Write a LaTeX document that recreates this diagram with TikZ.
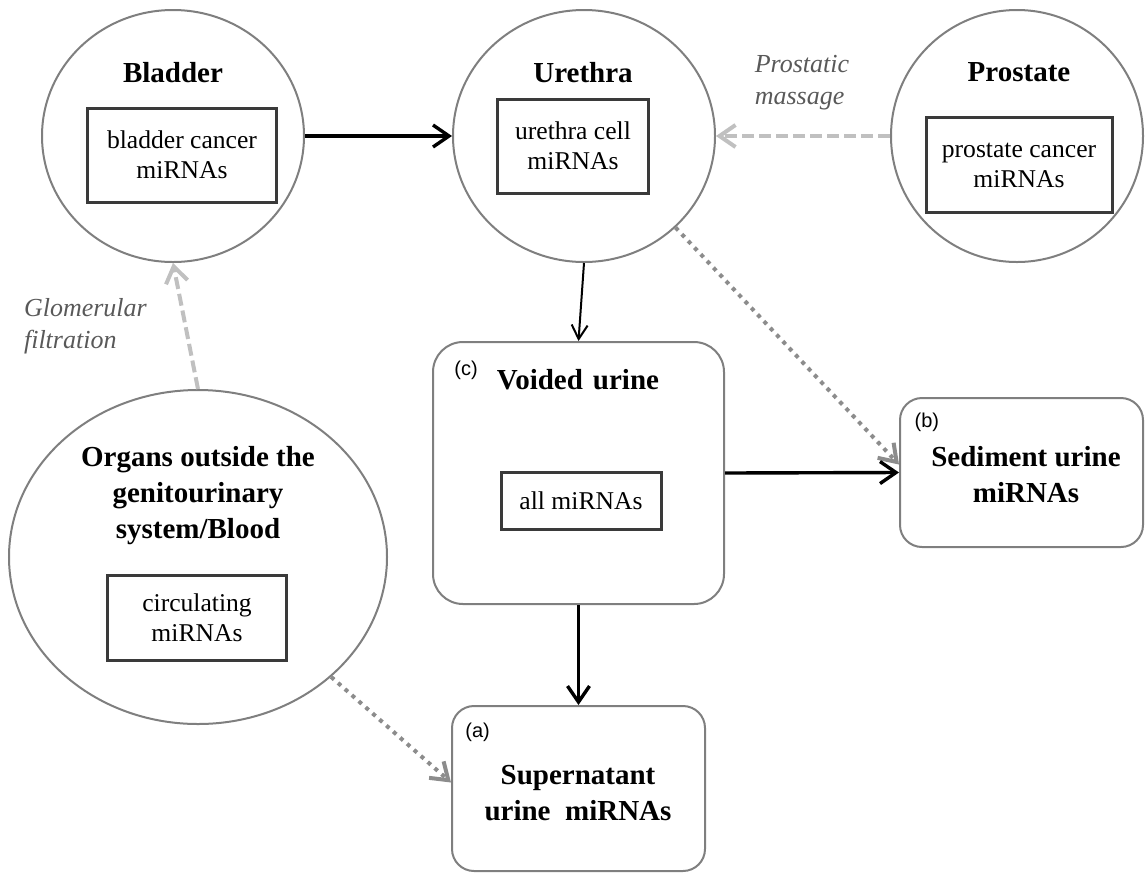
\documentclass[tikz,border=0pt]{standalone}
\usepackage{fontspec}
\setmainfont{Liberation Serif}
\setsansfont{Liberation Sans}
\usepackage{tikz}
\usetikzlibrary{arrows.meta, positioning, shapes.geometric}

\definecolor{rimgray}{HTML}{7F7F7F}
\definecolor{boxgray}{HTML}{3A3A3A}
\definecolor{fadegray}{HTML}{C0C0C0}
\definecolor{dotgray}{HTML}{8C8C8C}
\definecolor{notegray}{HTML}{595959}

\begin{document}
\begin{tikzpicture}[x=0.5pt, y=-0.5pt, >={Straight Barb[length=8pt,width=11pt]},
        organ/.style={ellipse, draw=rimgray, line width=1pt, inner sep=0pt},
        content/.style={rectangle, draw=boxgray, line width=1.5pt, align=center, inner sep=0pt, font=\fontsize{12.8}{15}\selectfont},
        sample/.style={rectangle, draw=rimgray, line width=1pt, inner sep=0pt},
        heading/.style={align=center, font=\fontsize{14.5}{18}\selectfont\bfseries},
        tag/.style={inner sep=0pt, font=\sffamily\fontsize{10}{12}\selectfont},
        note/.style={align=left, text=notegray, font=\itshape\fontsize{13}{16}\selectfont},
        flow/.style={->, line width=1.7pt},
        thinflow/.style={-{Straight Barb[length=7pt,width=8pt]}, line width=1pt},
        dashflow/.style={->, fadegray, line width=2pt, dash pattern=on 6pt off 2.5pt},
        dotflow/.style={->, dotgray, line width=2pt, dash pattern=on 2pt off 2.6pt}]

    \useasboundingbox (0,0) rectangle (1146,874);

    % organs
    \node (bladder) [organ, minimum width=131pt, minimum height=126pt] at (173,136) {};
    \node (bladdertitle) [heading] at (173,73) {Bladder};
    \node (bladderbox) [content, minimum width=94.5pt, minimum height=47pt] at (182,155) {bladder cancer\\miRNAs};

    \node (urethra) [organ, minimum width=131pt, minimum height=126pt] at (584,136) {};
    \node (urethratitle) [heading] at (583,73) {Urethra};
    \node (urethrabox) [content, minimum width=75.5pt, minimum height=47pt] at (573,146) {urethra cell\\miRNAs};

    \node (prostate) [organ, minimum width=126pt, minimum height=126pt] at (1017,136) {};
    \node (prostatetitle) [heading] at (1019,72) {Prostate};
    \node (prostatebox) [content, minimum width=93pt, minimum height=47.5pt] at (1019,165) {prostate cancer\\miRNAs};

    \node (organs) [organ, minimum width=189pt, minimum height=167pt] at (198,557) {};
    \node (organstitle) [heading] at (198,496) {Organs outside the\\genitourinary\\system/Blood};
    \node (organsbox) [content, minimum width=89.5pt, minimum height=42.5pt] at (197,618) {circulating\\miRNAs};

    % urine fractions
    \node (voided) [sample, rounded corners=15pt, minimum width=145.5pt, minimum height=131pt] at (578.5,473) {};
    \node (voidedtitle) [heading] at (578,380) {Voided\hspace{5pt}urine};
    \node (voidedbox) [content, minimum width=80pt, minimum height=28.5pt] at (581,500.5) {all miRNAs};
    \node (tagc) [tag, below right=10pt and 11pt of voided.north west] {(c)};

    \node (sediment) [sample, rounded corners=11pt, minimum width=121.5pt, minimum height=74.5pt] at (1021.5,472.5) {};
    \node (sedimenttitle) [heading] at (1026,475) {Sediment urine\\miRNAs};
    \node (tagb) [tag, below right=7.8pt and 7.6pt of sediment.north west] {(b)};

    \node (supernatant) [sample, rounded corners=11pt, minimum width=126.5pt, minimum height=82.5pt] at (578.5,788.5) {};
    \node (supernatanttitle) [heading] at (578,793) {Supernatant\\urine\ \ miRNAs};
    \node (taga) [tag, below right=8.8pt and 7pt of supernatant.north west] {(a)};

    % routes
    \node (massage) [note] at (802,83) {Prostatic\\massage};
    \node (filtration) [note, anchor=west] at (17,326) {Glomerular\\filtration};

    \draw[flow] (bladder) -- (urethra);
    \draw[dashflow] (prostate) -- (urethra);
    \draw[dashflow] (organs.north) -- (bladder.south);
    \draw[thinflow] (urethra.south) -- (voided.north);
    \draw[dotflow] (urethra.-45) -- ([yshift=4pt]sediment.west);
    \draw[flow] (voided.east) -- (sediment.west);
    \draw[flow] (voided.south) -- (supernatant.north);
    \draw[dotflow] (organs.-42) -- ([yshift=3pt]supernatant.west);
\end{tikzpicture}
\end{document}
